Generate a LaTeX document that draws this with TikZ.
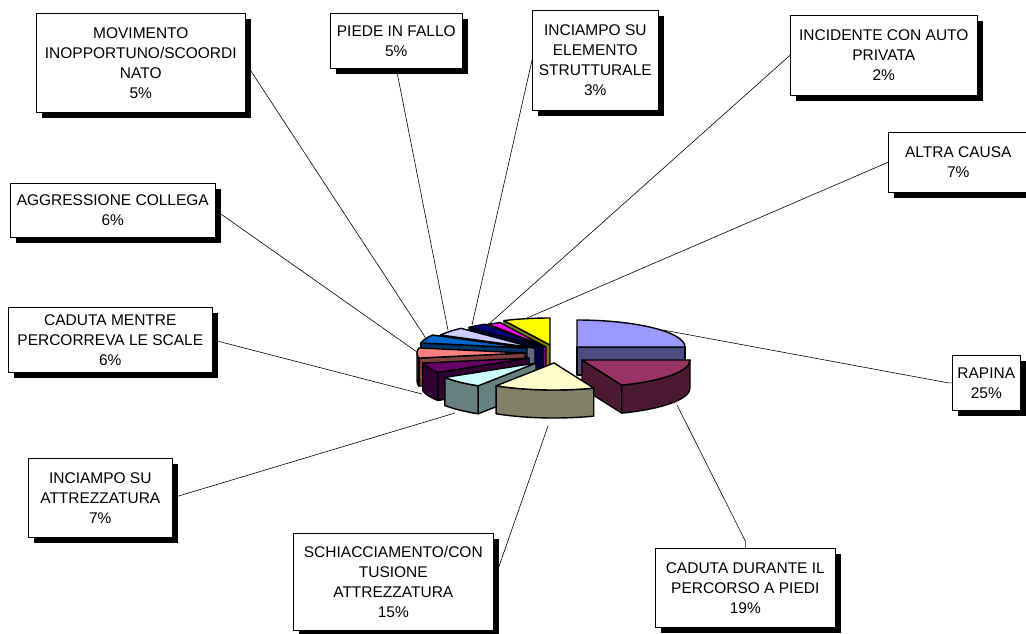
\documentclass[tikz,border=0pt]{standalone}
\usepackage{fontspec}
\usepackage{tikz}
\usetikzlibrary{shadows}
\newfontfamily\lblfont{Liberation Sans}

\definecolor{rapinacol}{HTML}{9999FF}
\definecolor{cadpercol}{HTML}{993366}
\definecolor{schiaccol}{HTML}{FFFFCC}
\definecolor{inattcol}{HTML}{CCFFFF}
\definecolor{scalecol}{HTML}{660066}
\definecolor{aggrcol}{HTML}{FF8080}
\definecolor{movcol}{HTML}{0066CC}
\definecolor{piedecol}{HTML}{CCCCFF}
\definecolor{elemcol}{HTML}{000080}
\definecolor{autocol}{HTML}{FF00FF}
\definecolor{altracol}{HTML}{FFFF00}

\newcommand{\pierx}{108}
\newcommand{\piery}{27}
\newcommand{\pieh}{28}

\newcommand{\pieslice}[5]{%
  \pgfmathsetmacro{\pieSa}{sin(#3)}%
  \pgfmathsetmacro{\pieSb}{sin(#4)}%
  \pgfmathsetmacro{\pieRa}{max(#3,90)}%
  \pgfmathsetmacro{\pieRb}{min(#4,270)}%
  \ifdim\pieSa pt<-0.01pt
    \filldraw[pieline, fill=#5!50!black] (#1,#2) -- ++({\pierx*sin(#3)},{-\piery*cos(#3)}) -- ++(0,\pieh) -- ++({-\pierx*sin(#3)},{\piery*cos(#3)}) -- cycle;
  \fi
  \ifdim\pieSb pt>0.01pt
    \filldraw[pieline, fill=#5!50!black] (#1,#2) -- ++({\pierx*sin(#4)},{-\piery*cos(#4)}) -- ++(0,\pieh) -- ++({-\pierx*sin(#4)},{\piery*cos(#4)}) -- cycle;
  \fi
  \ifdim\pieRa pt<\pieRb pt
    \filldraw[pieline, fill=#5!50!black] ({#1+\pierx*sin(\pieRa)},{#2-\piery*cos(\pieRa)}) arc[start angle=\pieRa-90, end angle=\pieRb-90, x radius=\pierx, y radius=\piery] -- ++(0,\pieh) arc[start angle=\pieRb-90, end angle=\pieRa-90, x radius=\pierx, y radius=\piery] -- cycle;
  \fi
  \filldraw[pieline, fill=#5] (#1,#2) -- ++({\pierx*sin(#3)},{-\piery*cos(#3)}) arc[start angle=#3-90, end angle=#4-90, x radius=\pierx, y radius=\piery] -- cycle;
}

\tikzset{
  pieline/.style={draw=black, line width=1.4pt, line join=round},
  lbl/.style={draw, fill=white, line width=0.6pt, anchor=north west, align=center, inner sep=1pt,
    font=\lblfont\fontsize{15.5}{20}\selectfont,
    drop shadow={shadow xshift=6pt, shadow yshift=-6pt, fill=black, opacity=1}},
  leader/.style={draw=black, line width=0.6pt}
}

\begin{document}
\begin{tikzpicture}[x=1pt, y=-1pt]
  \useasboundingbox (0,0) rectangle (1026,633);

  \foreach \cx/\cy/\sa/\sb/\col in {550/345/334.8/360/altracol, 546/347/327.6/334.8/autocol,
      543/347/316.8/327.6/elemcol, 577/347/0/90/rapinacol, 535/348/298.8/316.8/piedecol,
      527/348/280.8/298.8/movcol, 525/353/259.2/280.8/aggrcol, 529/358/237.6/259.2/scalecol,
      582/360/90/158.4/cadpercol, 536/363/212.4/237.6/inattcol, 554/363/158.4/212.4/schiaccol}
    {\pieslice{\cx}{\cy}{\sa}{\sb}{\col}}

  \node[lbl, minimum width=209, minimum height=99] (mov) at (36,13) {MOVIMENTO\\INOPPORTUNO/SCOORDI\\NATO\\5\%};
  \node[lbl, minimum width=132, minimum height=55] (piede) at (330,13) {PIEDE IN FALLO\\5\%};
  \node[lbl, minimum width=126, minimum height=100] (elem) at (532,10) {INCIAMPO SU\\ELEMENTO\\STRUTTURALE\\3\%};
  \node[lbl, minimum width=187, minimum height=80] (auto) at (790,15) {INCIDENTE CON AUTO\\PRIVATA\\2\%};
  \node[lbl, minimum width=140, minimum height=60] (altra) at (888,132) {ALTRA CAUSA\\7\%};
  \node[lbl, minimum width=205, minimum height=54] (aggr) at (10,183) {AGGRESSIONE COLLEGA\\6\%};
  \node[lbl, minimum width=204, minimum height=65] (scale) at (8,307) {CADUTA MENTRE\\PERCORREVA LE SCALE\\6\%};
  \node[lbl, minimum width=144, minimum height=79] (inatt) at (28,458) {INCIAMPO SU\\ATTREZZATURA\\7\%};
  \node[lbl, minimum width=200, minimum height=97] (schiac) at (293,533) {SCHIACCIAMENTO/CON\\TUSIONE\\ATTREZZATURA\\15\%};
  \node[lbl, minimum width=180, minimum height=79] (cadper) at (655,548) {CADUTA DURANTE IL\\PERCORSO A PIEDI\\19\%};
  \node[lbl, minimum width=68, minimum height=55] (rapina) at (952,355) {RAPINA\\25\%};

  \coordinate (movEnd) at (427,340);
  \coordinate (piedeEnd) at (448,330);
  \coordinate (elemEnd) at (472,325);
  \coordinate (autoEnd) at (490,323);
  \coordinate (altraEnd) at (527,318);
  \coordinate (aggrEnd) at (417,352);
  \coordinate (scaleEnd) at (422,394);
  \coordinate (inattEnd) at (455,413);
  \coordinate (schiacEnd) at (548,426);
  \coordinate (cadperEnd) at (677,405);
  \coordinate (rapinaEnd) at (663,330);

  \draw[leader] (mov.east) -- (movEnd);
  \draw[leader] (piede.south) -- (piedeEnd);
  \draw[leader] (elem.west) -- (elemEnd);
  \draw[leader] (auto.west) -- (autoEnd);
  \draw[leader] (altra.west) -- (altraEnd);
  \draw[leader] (aggr.east) -- (aggrEnd);
  \draw[leader] (scale.east) -- (scaleEnd);
  \draw[leader] (inatt.east) -- (inattEnd);
  \draw[leader] (schiac.east) -- (schiacEnd);
  \draw[leader] (cadper.north) -- ++(0,-7) -- (cadperEnd);
  \draw[leader] (rapina.west) -- ++(-4,0) -- (rapinaEnd);
\end{tikzpicture}
\end{document}
